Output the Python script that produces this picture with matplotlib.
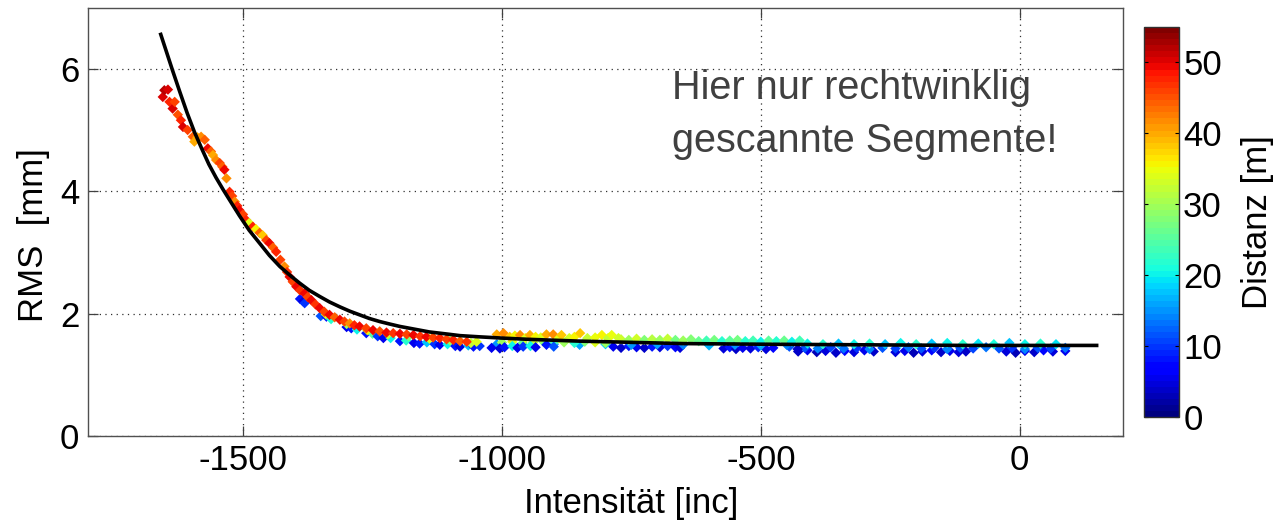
import matplotlib
matplotlib.use("Agg")
import matplotlib.pyplot as plt
import numpy as np

plt.rcParams['font.family'] = ['Liberation Sans', 'DejaVu Sans']
plt.rcParams['axes.unicode_minus'] = False

# ---- data ----
# fitted curve
fit_x = [-1660, -1648, -1636, -1622, -1608, -1594, -1580, -1566, -1552, -1538,
         -1524, -1507, -1488, -1468, -1449, -1429, -1410, -1391, -1372, -1352,
         -1333, -1313, -1294, -1275, -1256, -1236, -1217, -1197, -1178, -1159,
         -1140, -1120, -1100, -1081, -1062, -1043, -1000, -950, -900, -850,
         -772, -700, -650, -575, -500, -400, -300, -200, -100, 0, 152]
fit_y = [6.59, 6.28, 5.97, 5.62, 5.28, 4.97, 4.70, 4.44, 4.22, 4.02,
         3.83, 3.60, 3.36, 3.15, 2.95, 2.77, 2.63, 2.50, 2.38, 2.28,
         2.19, 2.11, 2.04, 1.98, 1.92, 1.87, 1.83, 1.79, 1.76, 1.73,
         1.70, 1.68, 1.66, 1.64, 1.63, 1.62, 1.60, 1.58, 1.565, 1.55,
         1.535, 1.52, 1.51, 1.505, 1.50, 1.495, 1.49, 1.485, 1.48, 1.48, 1.48]

# scatter bands: intensity, RMS, distance
mid_x = [-1340, -1300, -1260, -1220, -1180, -1140, -1100, -1060]
mid_y = [1.99, 1.83, 1.73, 1.66, 1.63, 1.59, 1.56, 1.52]
mid_d = [33, 30, 36, 32, 28, 34, 30, 32]

low_x = [-1390, -1384, -1381, -1350, -1339, -1330, -1300, -1291, -1280, -1262,
         -1250, -1240, -1229, -1215, -1197, -1185, -1170, -1159, -1145, -1130,
         -1120, -1105, -1090, -1081, -1065, -1055, -1043, -1020, -1004, -995,
         -980, -970, -959, -945, -935, -914, -900]
low_y = [2.24, 2.20, 2.17, 1.96, 1.95, 1.91, 1.78, 1.76, 1.74, 1.68,
         1.67, 1.63, 1.60, 1.60, 1.55, 1.56, 1.52, 1.51, 1.53, 1.50,
         1.49, 1.50, 1.47, 1.46, 1.48, 1.46, 1.47, 1.44, 1.43, 1.45,
         1.47, 1.44, 1.46, 1.47, 1.45, 1.49, 1.46]
low_d = [8, 5, 10, 12, 8, 22, 6, 8, 20, 8,
         25, 10, 6, 20, 8, 22, 6, 8, 18, 10,
         6, 20, 8, 5, 18, 8, 10, 6, 5, 8,
         20, 6, 10, 20, 6, 8, 12]

head_x = [-1655, -1652, -1645, -1642, -1636, -1632, -1626, -1620, -1616, -1607,
          -1597, -1594, -1588, -1581, -1574, -1568, -1562, -1558, -1552, -1545,
          -1540, -1536, -1532, -1526, -1521, -1516, -1511, -1507, -1500, -1494,
          -1488, -1481, -1475, -1468, -1462, -1455, -1449, -1442, -1436, -1428,
          -1420, -1415, -1410, -1404, -1397, -1390, -1381, -1375, -1368, -1360,
          -1352, -1343, -1333, -1323, -1313, -1304, -1294, -1285, -1275, -1262,
          -1249, -1236, -1223, -1210, -1197, -1184, -1171, -1158, -1146, -1133,
          -1120, -1107, -1094, -1081, -1068, -1049]
head_y = [5.54, 5.65, 5.66, 5.46, 5.35, 5.46, 5.25, 5.16, 5.05, 5.00,
          4.89, 4.81, 4.88, 4.89, 4.84, 4.70, 4.65, 4.59, 4.51, 4.46,
          4.40, 4.35, 4.21, 3.99, 3.92, 3.83, 3.76, 3.69, 3.62, 3.53,
          3.48, 3.42, 3.38, 3.32, 3.28, 3.20, 3.15, 3.08, 3.01, 2.88,
          2.77, 2.68, 2.60, 2.52, 2.44, 2.38, 2.33, 2.27, 2.22, 2.15,
          2.09, 2.03, 1.98, 1.94, 1.90, 1.87, 1.84, 1.81, 1.79, 1.76,
          1.73, 1.71, 1.69, 1.68, 1.67, 1.66, 1.65, 1.63, 1.62, 1.61,
          1.60, 1.58, 1.57, 1.55, 1.54, 1.54]
head_d = [50, 52, 50, 48, 50, 46, 45, 48, 50, 46,
          44, 40, 40, 42, 44, 49, 44, 40, 42, 46,
          44, 49, 42, 48, 46, 42, 48, 49, 46, 48,
          34, 48, 36, 44, 38, 46, 49, 44, 48, 46,
          42, 47, 49, 46, 49, 47, 49, 46, 49, 47,
          49, 46, 49, 44, 49, 46, 42, 48, 49, 46,
          49, 45, 49, 47, 49, 46, 49, 47, 49, 46,
          48, 46, 48, 44, 47, 34]

cyan_x = [-1010, -960, -900, -850, -800, -750, -700, -650, -600, -550, -500, -450]
cyan_y = [1.50, 1.49, 1.50, 1.49, 1.50, 1.49, 1.50, 1.49, 1.48, 1.49, 1.48, 1.49]
cyan_d = [15, 18, 14, 16, 18, 15, 16, 14, 17, 15, 16, 14]

ylw_x = [-1000, -980, -960, -940, -920, -900, -880, -860, -840, -820, -800]
ylw_y = [1.53, 1.54, 1.52, 1.53, 1.54, 1.52, 1.53, 1.52, 1.54, 1.53, 1.52]
ylw_d = [30, 34, 26, 32, 28, 24, 30, 22, 28, 34, 30]

orng_x = [-1010, -997, -985, -975, -965, -955, -946, -935, -925, -914, -901,
          -890, -885, -870, -860, -849, -835, -820, -807, -795, -788, -775]
orng_y = [1.66, 1.68, 1.62, 1.64, 1.65, 1.60, 1.65, 1.62, 1.61, 1.66, 1.66,
          1.60, 1.65, 1.60, 1.62, 1.68, 1.60, 1.61, 1.65, 1.60, 1.65, 1.60]
orng_d = [40, 42, 38, 36, 42, 34, 40, 36, 34, 40, 42,
          34, 38, 33, 36, 38, 32, 35, 36, 32, 35, 33]

grn_x = [-770, -755, -740, -725, -710, -695, -680, -665, -650, -635, -620, -605,
         -590, -575, -560, -545, -530, -515, -500, -485, -470, -455, -440, -425]
grn_y = [1.58, 1.57, 1.59, 1.57, 1.58, 1.57, 1.59, 1.57, 1.56, 1.58, 1.55, 1.56,
         1.57, 1.55, 1.56, 1.57, 1.55, 1.56, 1.54, 1.56, 1.55, 1.56, 1.54, 1.56]
grn_d = [32, 30, 33, 28, 31, 30, 32, 27, 30, 28, 26, 24,
         27, 22, 25, 27, 22, 24, 20, 25, 22, 26, 20, 24]

blue_x = [-785, -770, -755, -740, -725, -710, -695, -680, -665, -656,
          -572, -560, -548, -535, -520, -505, -490, -476, -445, -429]
blue_y = [1.46, 1.44, 1.47, 1.45, 1.44, 1.46, 1.45, 1.47, 1.45, 1.44,
          1.43, 1.45, 1.42, 1.44, 1.43, 1.45, 1.42, 1.44, 1.46, 1.42]
blue_d = [6, 4, 8, 6, 4, 8, 5, 10, 7, 5,
          5, 8, 4, 6, 5, 9, 5, 7, 12, 4]

tail_top_x = [-410, -380, -350, -320, -290, -260, -230, -200, -170, -140,
              -110, -80, -50, -20, 10, 40, 70]
tail_top_y = [1.51, 1.50, 1.51, 1.50, 1.51, 1.50, 1.52, 1.50, 1.51, 1.52,
              1.50, 1.51, 1.50, 1.52, 1.50, 1.51, 1.50]
tail_top_d = [20, 22, 18, 20, 22, 18, 20, 22, 18, 20,
              22, 19, 21, 18, 20, 22, 19]

tail_mid_x = [-415, -390, -365, -340, -315, -290, -265, -240, -215, -190, -165,
              -140, -115, -90, -65, -40, -15, 10, 35, 60, 88]
tail_mid_y = [1.44, 1.43, 1.45, 1.43, 1.44, 1.42, 1.44, 1.43, 1.45, 1.43, 1.44,
              1.42, 1.44, 1.43, 1.45, 1.43, 1.44, 1.42, 1.44, 1.43, 1.44]
tail_mid_d = [12, 14, 11, 13, 10, 14, 12, 11, 13, 12, 10,
              14, 12, 11, 13, 12, 10, 14, 12, 11, 13]

tail_low_x = [-428, -410, -392, -375, -355, -338, -320, -300, -282, -240,
              -222, -205, -188, -170, -152, -135, -118, -104, -26, -8,
              10, 28, 46, 64, 88]
tail_low_y = [1.38, 1.40, 1.37, 1.39, 1.36, 1.39, 1.37, 1.40, 1.38, 1.37,
              1.39, 1.36, 1.38, 1.40, 1.37, 1.39, 1.37, 1.38, 1.38, 1.36,
              1.39, 1.37, 1.40, 1.38, 1.39]
tail_low_d = [4, 6, 3, 5, 4, 7, 5, 6, 4, 5,
              6, 3, 5, 7, 4, 6, 5, 4, 5, 3,
              6, 4, 7, 5, 6]

x_ticks = [-1500, -1000, -500, 0]
y_ticks = [0, 2, 4, 6]
cb_ticks = [0, 10, 20, 30, 40, 50]

# ---- figure ----
W, H = 1278, 530
FS = 25
fig = plt.figure(figsize=(W / 100, H / 100), dpi=100)
ax = fig.add_axes([87.7 / W, (H - 436) / H, (1123.3 - 87.7) / W, (436 - 7.6) / H])

cmap = plt.get_cmap('jet', 64)
xs = (tail_low_x + tail_mid_x + tail_top_x + blue_x + cyan_x + grn_x + ylw_x +
      orng_x + low_x + mid_x + head_x)
ys = (tail_low_y + tail_mid_y + tail_top_y + blue_y + cyan_y + grn_y + ylw_y +
      orng_y + low_y + mid_y + head_y)
ds = (tail_low_d + tail_mid_d + tail_top_d + blue_d + cyan_d + grn_d + ylw_d +
      orng_d + low_d + mid_d + head_d)
sc = ax.scatter(xs, ys, c=ds, cmap=cmap, vmin=0, vmax=55, marker='D', s=28,
                linewidths=0, zorder=2)
ax.plot(fit_x, fit_y, color='black', lw=2.6, zorder=3,
        solid_capstyle='butt', solid_joinstyle='round')

ax.set_xlim(-1800, 200)
ax.set_ylim(0, 7)
ax.set_xticks(x_ticks)
ax.set_yticks(y_ticks)
ax.grid(True, color='#303030', linestyle=(0, (1, 3.5)), linewidth=0.9)
ax.tick_params(direction='in', length=7, width=0.9, top=True, right=True,
               labelsize=FS, pad=6, color='#404040')
for sp in ax.spines.values():
    sp.set_color('#505050')
    sp.set_linewidth(1.0)

ax.set_xlabel('Intensität [inc]', fontsize=FS)
ax.xaxis.set_label_coords(0.5246, -0.118)
ax.set_ylabel('RMS  [mm]', fontsize=FS)
ax.yaxis.set_label_coords(-0.036, 0.47)

fig.text(671.7 / W, (H - 99.3) / H, 'Hier nur rechtwinklig', fontsize=28.5,
         color='#404040', ha='left', va='baseline')
fig.text(671.7 / W, (H - 151.7) / H, 'gescannte Segmente!', fontsize=28.5,
         color='#404040', ha='left', va='baseline')

cax = fig.add_axes([1144 / W, (H - 417.3) / H, 35 / W, (417.3 - 26.8) / H])
cb = fig.colorbar(sc, cax=cax)
cb.set_ticks(cb_ticks)
cb.ax.tick_params(direction='in', length=3, width=0.8, left=True, right=True,
                  labelsize=FS, pad=3)
cb.outline.set_edgecolor('#303030')
cb.outline.set_linewidth(1.0)
cb.set_label('Distanz [m]', fontsize=FS, labelpad=14)

fig.savefig('out.png', dpi=100)
